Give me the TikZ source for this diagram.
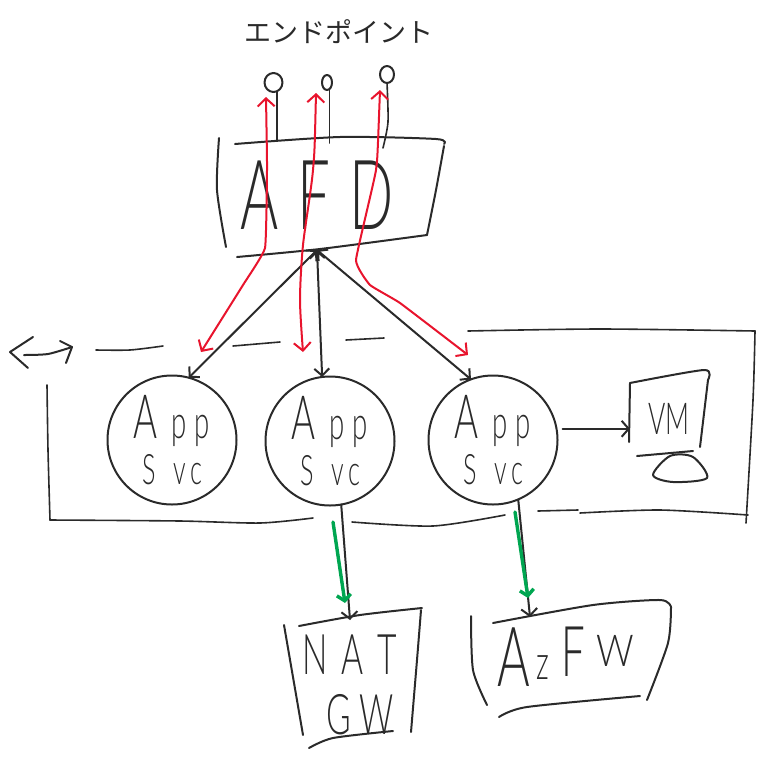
\documentclass[tikz,border=0pt]{standalone}
\usepackage{fontspec}
\setmainfont[FakeStretch=0.6]{Lato Light}
\newfontfamily\jpfont{Noto Sans CJK JP}
\usetikzlibrary{arrows.meta,shapes.geometric}
\definecolor{inkblack}{HTML}{2A2A2A}
\definecolor{inkred}{HTML}{E8142D}
\definecolor{inkgreen}{HTML}{00A651}
\newcommand{\appsvc}{%
    {\fontsize{61}{61}\selectfont A}\hspace{14pt}{\fontsize{46}{46}\selectfont p\hspace{8pt}p}\\[7pt]
    {\fontsize{42}{42}\selectfont S\hspace{18pt}v\hspace{4pt}c}}
\begin{document}
\begin{tikzpicture}[
    x=1pt, y=-1pt,
    ink/.style={line width=2pt, draw=inkblack, line cap=round, line join=round},
    thinink/.style={line width=1.6pt, draw=inkblack, line cap=round, line join=round},
    svc/.style={circle, ink, minimum size=129pt, inner sep=0pt, outer sep=0pt,
        align=center, text=inkblack},
    box/.style={inner sep=0pt, outer sep=0pt, text=inkblack, align=center},
    edge/.style={ink, {Straight Barb[length=7pt,width=15pt]}-{Straight Barb[length=7pt,width=15pt]}},
    tip/.style={ink, -{Straight Barb[length=7pt,width=16pt]}},
    redflow/.style={line width=2pt, draw=inkred, line cap=round, line join=round,
        {Straight Barb[length=8pt,width=17pt]}-{Straight Barb[length=8pt,width=17pt]}},
    greenflow/.style={line width=3.4pt, draw=inkgreen, line cap=round, line join=round,
        -{Straight Barb[length=6pt,width=14pt]}},
    endpoint/.style={ellipse, ink, inner sep=0pt, outer sep=0pt},
    smooth/.append style={tension=0.45}
]
    \useasboundingbox (0,0) rectangle (773,758);

    \node[box, font=\jpfont\fontsize{27}{27}\selectfont] (title) at (339,32) {エンドポイント};

    \node[box, minimum width=210pt, minimum height=110pt,
        font=\fontsize{97}{97}\selectfont] (afd) at (317,195)
        {\raisebox{-8pt}{A\hspace{19pt}F\hspace{19pt}D}};
    \node[svc] (svc1) at (172,440) {\appsvc};
    \node[svc] (svc2) at (330,441) {\appsvc};
    \node[svc] (svc3) at (493,440) {\appsvc};
    \node[box, minimum width=78pt, minimum height=70pt,
        font=\fontsize{44}{44}\selectfont] (vm) at (669,419) {VM};
    \node[box, minimum width=120pt, minimum height=130pt,
        font=\fontsize{56}{58}\selectfont] (nat) at (350,685)
        {N\hspace{14pt}A\hspace{14pt}T\\[2pt]\hspace{20pt}G\hspace{8pt}W};
    \node[box, minimum width=190pt, minimum height=80pt] (azfw) at (566,657)
        {\fontsize{83}{83}\selectfont A\hspace{6pt}\raisebox{7pt}{\fontsize{48}{48}\selectfont z}\hspace{12pt}%
        \raisebox{10pt}{\fontsize{70}{70}\selectfont F}\hspace{12pt}%
        \raisebox{20pt}{\scalebox{1.4}[1]{\fontsize{44}{44}\selectfont W}}};

    \node[endpoint, minimum width=18pt, minimum height=19pt] (ep1) at (273.5,82.5) {};
    \node[endpoint, minimum width=10pt, minimum height=15pt] (ep2) at (327,82.5) {};
    \node[endpoint, minimum width=14pt, minimum height=17pt] (ep3) at (387,74.5) {};
    \draw[thinink] (ep1.-70) -- (ep1.-70 |- afd.north);
    \draw[thinink] (ep2.-70) -- ([yshift=-3pt]ep2.-70 |- afd.north);
    \draw[thinink] plot[smooth] coordinates {(ep3.south) (388,122) (383,148)};

    % AFD box
    \draw[ink] plot[smooth] coordinates {(219,138) (217,190) (226,247)};
    \draw[ink] plot[smooth] coordinates {(235,144) (340,137) (436,139) (444,144)};
    \draw[ink] plot[smooth] coordinates {(444,146) (436,190) (427,235)};
    \draw[ink] plot[smooth] coordinates {(237,257) (320,249) (427,235)};

    % vnet outline
    \draw[ink] (33,337) -- (10,352) -- (28,368);
    \draw[ink] plot[smooth] coordinates {(24,355) (48,354) (72,347)};
    \draw[ink] (60,341) -- (72,347) -- (66,363);
    \draw[thinink] plot[smooth] coordinates {(96,350) (130,350) (163,346)};
    \draw[thinink] (233,346) -- (280,342);
    \draw[thinink] (346,340) -- (384,338);
    \draw[thinink] plot[smooth] coordinates {(468,331) (600,329) (755,331)};
    \draw[thinink] plot[smooth] coordinates {(755,331) (753,400) (746,523)};
    \draw[thinink] plot[smooth] coordinates {(47,385) (48,450) (50,520)};
    \draw[thinink] plot[smooth] coordinates {(50,520) (180,521) (260,523) (313,518)};
    \draw[thinink] plot[smooth] coordinates {(352,522) (433,526) (505,515)};
    \draw[thinink] (538,511) -- (578,510);
    \draw[thinink] plot[smooth] coordinates {(580,513) (660,510) (748,515)};

    % VM monitor
    \draw[ink] (630,383) -- (629,442);
    \draw[ink] plot[smooth] coordinates {(630,383) (704,370) (708,380)};
    \draw[ink] (708,380) -- (700,447);
    \draw[ink] (637,456) -- (693,451);
    \draw[ink] plot[smooth cycle] coordinates {(670,456) (653,475) (673,482) (707,478) (693,457)};

    % NAT box
    \draw[ink] (284,625) -- (303,735);
    \draw[ink] plot[smooth] coordinates {(299,626) (360,615) (422,608)};
    \draw[ink] plot[smooth] coordinates {(421,610) (417,660) (411,732)};
    \draw[ink] plot[smooth] coordinates {(309,748) (333,738) (393,731)};

    % AzFW box
    \draw[ink] plot[smooth] coordinates {(471,616) (473,670) (487,705)};
    \draw[ink] plot[smooth] coordinates {(493,623) (593,605) (660,600) (671,607)};
    \draw[ink] plot[smooth] coordinates {(671,607) (668,643) (647,700)};
    \draw[ink] plot[smooth] coordinates {(499,717) (527,707) (640,696)};

    \coordinate (redtop1) at (266,97);
    \coordinate (redtop2) at (316,93);
    \coordinate (redtop3) at (380,90);
    \coordinate (redend1) at (201,352);
    \coordinate (redend2) at (303,352);
    \coordinate (redend3) at (468,355);
    \coordinate (greenstart1) at (333,522);
    \coordinate (greenend1) at (345,603);
    \coordinate (greenstart2) at (515,512);
    \coordinate (greenend2) at (528,598);
    \coordinate (aztip) at (530,617);

    \draw[edge] (afd.south) -- (svc1.75);
    \draw[edge] (afd.south) -- (svc2.97);
    \draw[edge] (afd.south) -- (svc3.110);
    \draw[tip] ([xshift=6pt]svc3.10) -- (svc3.10 -| vm.west);
    \draw[tip] (svc2.280) -- (nat.north);
    \draw[tip] (svc3.-67) -- (aztip);

    \draw[redflow] plot[smooth, tension=0.2] coordinates {(redtop1) (267,170) (265,248) (243,285) (redend1)};
    \draw[redflow] plot[smooth] coordinates {(redtop2) (313,170) (303,245) (300,300) (redend2)};
    \draw[redflow] plot[smooth, tension=0.2] coordinates {(redtop3) (376,170) (356,260) (370,285) (400,303) (redend3)};
    \draw[greenflow] (greenstart1) -- (greenend1);
    \draw[greenflow] (greenstart2) -- (greenend2);
\end{tikzpicture}
\end{document}
